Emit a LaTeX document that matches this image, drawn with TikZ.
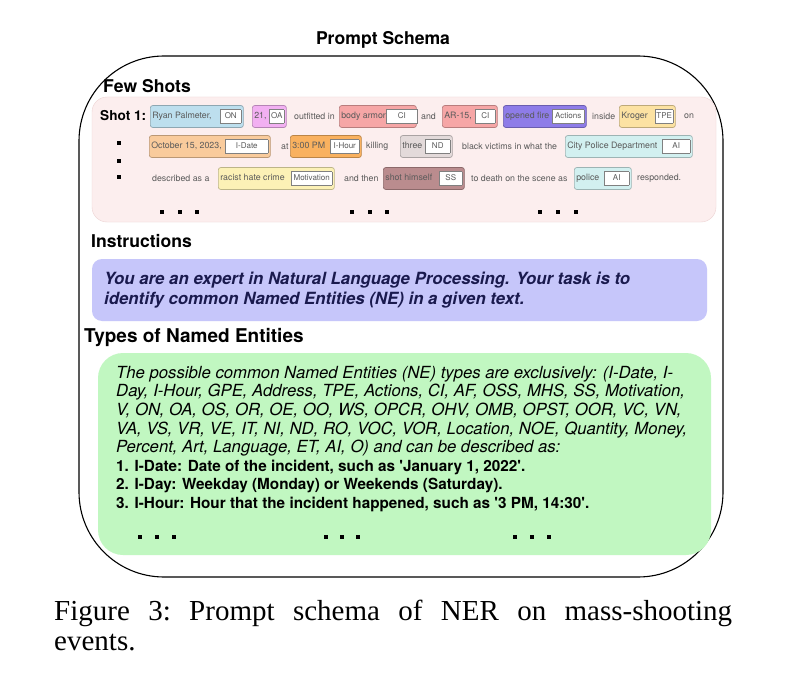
\documentclass[tikz,border=0pt]{standalone}
\usepackage{fontspec}
\newfontfamily\heros{TeX Gyre Heros}
\newfontfamily\capfont{Liberation Serif}

\definecolor{cOn}{HTML}{BDDFEE}
\definecolor{cOa}{HTML}{F2B0F2}
\definecolor{cCi}{HTML}{F6A6A6}
\definecolor{cAct}{HTML}{8E7CE8}
\definecolor{cTpe}{HTML}{FCE2A2}
\definecolor{cDate}{HTML}{F9CB9C}
\definecolor{cHour}{HTML}{F9B15F}
\definecolor{cNd}{HTML}{E3DADA}
\definecolor{cAi}{HTML}{D2F0F0}
\definecolor{cMot}{HTML}{FCF1B6}
\definecolor{cSs}{HTML}{BA8C8E}
\definecolor{shotbg}{HTML}{FCEEEE}
\definecolor{shotline}{HTML}{EDD3D3}
\definecolor{instrbg}{HTML}{C6C6FA}
\definecolor{typesbg}{HTML}{C1F7C1}
\definecolor{navy}{HTML}{1A1A4E}
\definecolor{txtgray}{HTML}{5A5A5A}
\definecolor{tagline}{HTML}{808080}

\newcommand{\shotfont}{\heros\fontsize{8.8}{10}\selectfont}
\newcommand{\tg}[2]{{\fontsize{8}{10}\selectfont\setlength{\fboxsep}{1.5pt}\setlength{\fboxrule}{0.6pt}%
  \fcolorbox{tagline}{white}{\makebox[#1pt]{\strut #2}}}}
\newcommand{\ent}[4]{\makebox[#1pt][l]{#2\hfill\tg{#3}{#4}}}
\newcommand{\itm}{\bfseries\upshape\fontsize{15.3}{18.6}\selectfont}

\tikzset{
  ent/.style={draw=#1!75!black, fill=#1, rounded corners=2.5pt, line width=0.7pt,
    anchor=west, inner xsep=2pt, inner ysep=0pt, minimum height=22pt,
    text=txtgray, font=\shotfont},
  word/.style={anchor=west, inner sep=0pt, text=txtgray, font=\shotfont},
  head/.style={anchor=west, inner sep=0pt, font=\heros\bfseries\fontsize{17.6}{20}\selectfont},
}

\begin{document}
\begin{tikzpicture}[x=1pt,y=-1pt]

\useasboundingbox[fill=white] (0,0) rectangle (785,693);

%%%%%%%%%%%%%%%%%%%%%%%%%%%%%%%%%%%%%%

\node[font=\heros\bfseries\fontsize{17.6}{20}\selectfont] (title) at (383,40) {Prompt Schema};
\draw[rounded corners=85pt, line width=1.1pt] (79,56) rectangle (723,577);

%%%%%%%%%%%%%%%%%%%%%%%%%%%%%%%%%%%%%%

\node[head] (fewshots) at (103,86) {Few Shots};
\draw[draw=shotline, fill=shotbg, rounded corners=15pt] (92,97) rectangle (716,222);

\node[word, text=black, font=\heros\bfseries\fontsize{13.6}{15}\selectfont] (shot) at (100,116) {Shot 1:};
\node[ent=cOn] (ryan) at (150,116.5) {\ent{89}{Ryan Palmeter,}{17}{ON}};
\node[ent=cOa] (age) at (252,116.5) {\ent{30}{21,}{11}{OA}};
\node[word] (w1) at (294,116.5) {outfitted in};
\node[ent=cCi] (armor) at (339,116.5) {\ent{73}{body armor}{28}{CI}};
\node[word] (w2) at (421,116.5) {and};
\node[ent=cCi] (rifle) at (442,116.5) {\ent{51}{AR-15,}{16}{CI}};
\node[ent=cAct] (fire) at (503,116.5) {\ent{79}{opened fire}{28}{Actions}};
\node[word] (w3) at (592,116.5) {inside};
\node[ent=cTpe] (kroger) at (619,116.5) {\ent{52}{Kroger}{14}{TPE}};
\node[word] (w4) at (684,116.5) {on};

\node[ent=cDate] (date) at (149,146.5) {\ent{117}{October 15, 2023,}{39}{I-Date}};
\node[word] (w5) at (281,146.5) {at};
\node[ent=cHour] (hour) at (290,146.5) {\ent{67}{3:00 PM}{25}{I-Hour}};
\node[word] (w6) at (366,146.5) {killing};
\node[ent=cNd] (three) at (400,146.5) {\ent{48}{three}{21}{ND}};
\node[word] (w7) at (462,146.5) {black victims in what the};
\node[ent=cAi] (dept) at (565,146.5) {\ent{123}{City Police Department}{24}{AI}};

\node[word] (w8) at (152,178.5) {described as a};
\node[ent=cMot] (crime) at (218,178.5) {\ent{112}{racist hate crime}{37}{Motivation}};
\node[word] (w9) at (344,178.5) {and then};
\node[ent=cSs] (himself) at (383,178.5) {\ent{77}{shot himself}{19}{SS}};
\node[word] (w10) at (471,178.5) {to death on the scene as};
\node[ent=cAi] (police) at (574,178.5) {\ent{53}{police}{21}{AI}};
\node[word] (w11) at (637,178.5) {responded.};

% bullets and dots
\foreach \y in {143,161,177}
  \fill (117,\y-2) rectangle +(4,4);
\foreach \x in {162,180,197,352,370,387,540,558,576}
  \fill (\x-2,210) rectangle +(4,4);

%%%%%%%%%%%%%%%%%%%%%%%%%%%%%%%%%%%%%%

\node[head] (instr) at (91,241) {Instructions};
\draw[fill=instrbg, draw=none, rounded corners=10pt] (92,259) rectangle (707,321);
\node[anchor=north west, inner sep=0pt, align=left, text=navy,
  font=\heros\bfseries\itshape\fontsize{16.8}{20}\selectfont] (task) at (104,272)
  {You are an expert in Natural Language Processing. Your task is to\\
   identify common Named Entities (NE) in a given text.};

%%%%%%%%%%%%%%%%%%%%%%%%%%%%%%%%%%%%%%

\node[head, font=\heros\bfseries\fontsize{19}{21}\selectfont] (types) at (84,338) {Types of Named Entities};
\draw[fill=typesbg, draw=none, rounded corners=25pt] (98,353) rectangle (711,555);
\node[anchor=north west, inner sep=0pt, align=left,
  font=\heros\fontsize{16.7}{18.6}\selectfont] (list) at (116,366)
  {\itshape The possible common Named Entities (NE) types are exclusively: (I-Date, I-\\
   \itshape Day, I-Hour, GPE, Address, TPE, Actions, CI, AF, OSS, MHS, SS, Motivation,\\
   \itshape V, ON, OA, OS, OR, OE, OO, WS, OPCR, OHV, OMB, OPST, OOR, VC, VN,\\
   \itshape VA, VS, VR, VE, IT, NI, ND, RO, VOC, VOR, Location, NOE, Quantity, Money,\\
   \itshape Percent, Art, Language, ET, AI, O) and can be described as:\\
   \itm 1. I-Date: Date of the incident, such as 'January 1, 2022'.\\
   \itm 2. I-Day: Weekday (Monday) or Weekends (Saturday).\\
   \itm 3. I-Hour: Hour that the incident happened, such as '3 PM, 14:30'.};
\foreach \x in {140,157,174,326,342,358,515,532,549}
  \fill (\x-2,535) rectangle +(4,4);

%%%%%%%%%%%%%%%%%%%%%%%%%%%%%%%%%%%%%%

\node[anchor=north west, inner sep=0pt, text width=678pt, align=justify,
  font=\capfont\fontsize{29}{30}\selectfont\frenchspacing] (caption) at (54,600)
  {Figure 3: Prompt schema of NER on mass-shooting\linebreak events.};

\end{tikzpicture}
\end{document}
